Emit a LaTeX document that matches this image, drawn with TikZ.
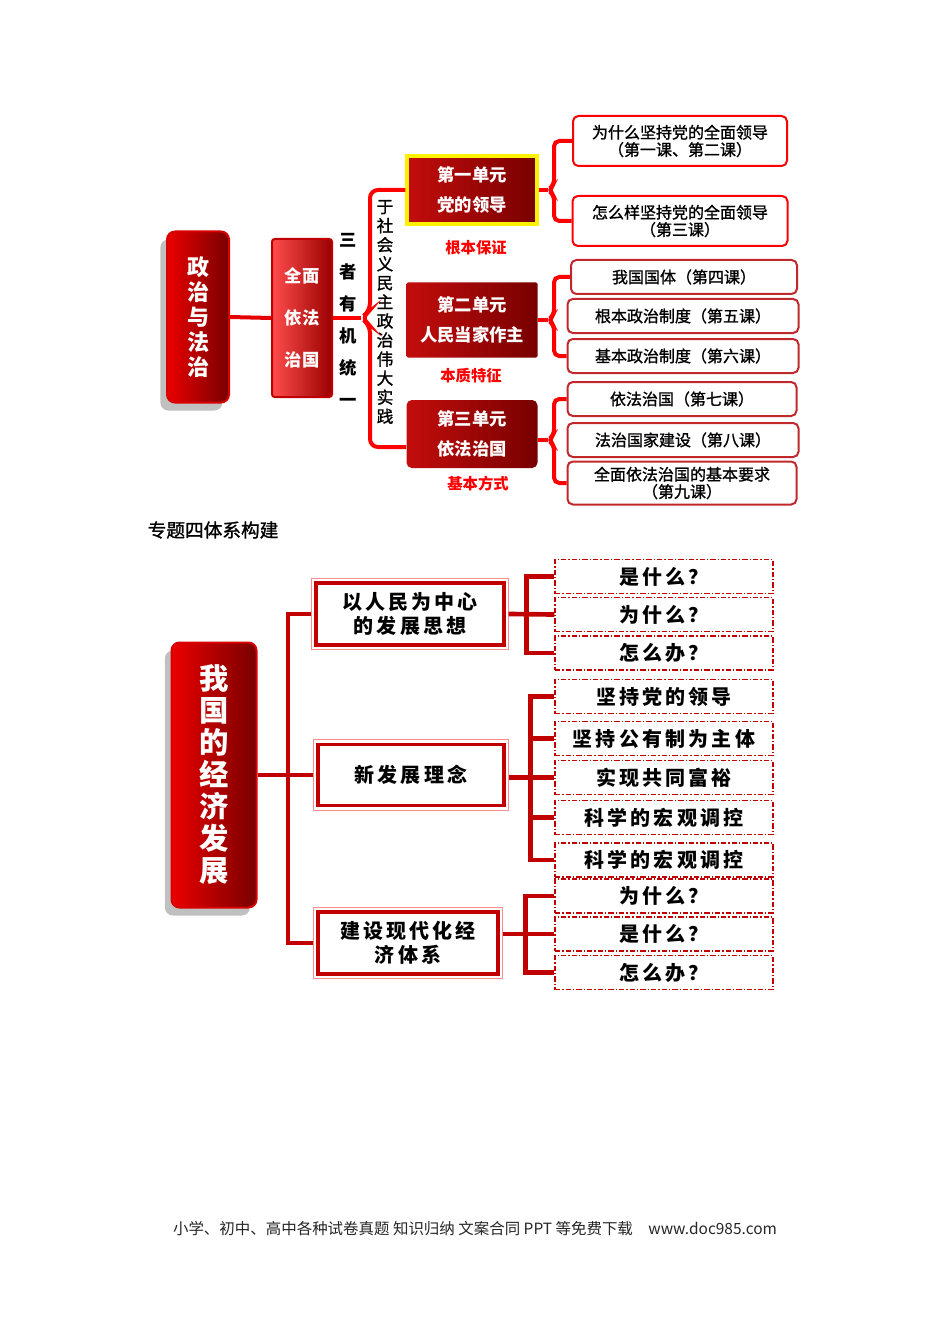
\documentclass[tikz,border=0pt]{standalone}
\usepackage{fontspec}
\setmainfont{Noto Sans CJK SC}
\newfontfamily\kuanti[LetterSpace=16]{Noto Sans CJK SC}
\newfontfamily\zhongti[FakeBold=1.2]{Noto Sans CJK SC}
\usetikzlibrary{calc,shadows,positioning}

\definecolor{hong}{HTML}{FF0000}
\definecolor{shenhong}{HTML}{C00000}
\definecolor{anhong}{HTML}{780000}
\definecolor{bianhong}{HTML}{C0282C}

\tikzset{
  hongxian/.style={draw=hong, line width=3pt},
  shenxian/.style={draw=shenhong, line width=3.5pt},
  zhuti/.style={draw=hong!85!black, line width=1.5pt, rounded corners=6pt,
    left color=hong!92!black, right color=anhong, text=white, align=center, inner sep=0pt,
    drop shadow={shadow xshift=-5pt, shadow yshift=-6pt, opacity=.35, fill=black!70}},
  danyuan/.style={left color=shenhong!95!white, right color=anhong, text=white, align=center,
    inner sep=0pt, font=\fontsize{13pt}{22.5pt}\selectfont\bfseries},
  kecheng/.style={draw=bianhong, line width=1.5pt, fill=white, rounded corners=4pt, align=center,
    inner sep=0pt, font=\zhongti\fontsize{12pt}{13pt}\selectfont},
  biaoqian/.style={text=hong, font=\fontsize{11.5pt}{12pt}\selectfont\bfseries},
  kuang/.style={draw=shenhong, line width=2.5pt, fill=white, align=center, inner sep=0pt,
    font=\kuanti\fontsize{15pt}{18pt}\selectfont\bfseries},
  waikuang/.style={draw=hong!45, line width=.8pt},
  xuxian/.style={draw=shenhong, dash pattern=on 4pt off 1.5pt on 1pt off 1.5pt, line width=.9pt,
    minimum width=163.5pt, minimum height=25.5pt, inner sep=0pt,
    font=\kuanti\fontsize{15pt}{16pt}\selectfont\bfseries}
}

\begin{document}
\begin{tikzpicture}[x=0.75pt, y=-0.75pt]
\useasboundingbox[fill=white] (0,0) rectangle (950,1344);

% 政治与法治
\node[zhuti, minimum width=46.5pt, minimum height=128.25pt,
  font=\fontsize{16.5pt}{18.75pt}\selectfont\bfseries] (zz) at (198,317) {政\\治\\与\\法\\治};
\node[draw=shenhong, line width=1.5pt, rounded corners=2pt, left color=red!70!white,
  right color=shenhong!80!black, text=white, align=center, inner sep=0pt,
  minimum width=45pt, minimum height=118.5pt,
  font=\fontsize{13pt}{31.5pt}\selectfont\bfseries] (qm) at (302,318) {全面\\依法\\治国};
\node[align=center, font=\fontsize{13pt}{24pt}\selectfont\bfseries] (sz) at (348,320)
  {三\\者\\有\\机\\统\\一};
\node[align=center, font=\zhongti\fontsize{12.5pt}{14.3pt}\selectfont] (ys) at (385,312)
  {于\\社\\会\\义\\民\\主\\政\\治\\伟\\大\\实\\践};

\node[danyuan, draw=yellow, line width=2.5pt, minimum width=97.5pt, minimum height=51pt]
  (u1) at (472,190) {第一单元\\党的领导};
\node[danyuan, rounded corners=1pt, minimum width=98.25pt, minimum height=56.25pt]
  (u2) at (472,320) {第二单元\\人民当家作主};
\node[danyuan, rounded corners=4pt, minimum width=98.25pt, minimum height=51pt]
  (u3) at (472,434) {第三单元\\依法治国};
\node[biaoqian] (gb) at (476,248) {根本保证};
\node[biaoqian] (bz) at (471,376) {本质特征};
\node[biaoqian] (jb) at (478,484) {基本方式};

\node[kecheng, draw=hong, minimum width=160.5pt, minimum height=37.5pt] (ka) at (680,141)
  {为什么坚持党的全面领导\\（第一课、第二课）};
\node[kecheng, draw=hong, minimum width=161.25pt, minimum height=37.5pt] (kb) at (680,221)
  {怎么样坚持党的全面领导\\（第三课）};
\node[kecheng, minimum width=169.5pt, minimum height=25.5pt] (kc) at (684,277) {我国国体（第四课）};
\node[kecheng, minimum width=173.25pt, minimum height=25.5pt] (kd) at (683,316) {根本政治制度（第五课）};
\node[kecheng, minimum width=173.25pt, minimum height=25.5pt] (ke) at (683,356) {基本政治制度（第六课）};
\node[kecheng, minimum width=171.75pt, minimum height=25.5pt] (kf) at (682,399) {依法治国（第七课）};
\node[kecheng, minimum width=173.25pt, minimum height=25.5pt] (kg) at (683,440) {法治国家建设（第八课）};
\node[kecheng, minimum width=171.75pt, minimum height=32.25pt] (kh) at (682,483)
  {全面依法治国的基本要求\\（第九课）};

% 括号
\coordinate (t0) at (361,318);
\coordinate (p1) at (548,190);
\coordinate (p2) at (548,320);
\coordinate (p3) at (548,440);
\draw[hongxian, draw=hong!90!black] (zz.east) -- (qm.west);
\draw[hongxian] (qm.east) -- (t0);
\draw[hongxian, rounded corners=6pt] (u1.west) -| (370,311) -- (t0) -- (370,325)
  |- ($(u3.west)+(0,13)$);
\draw[hongxian] (u1.east) -- (p1);
\draw[hongxian, rounded corners=4pt] (ka.west) -| (554,185) -- (p1) -- (554,195) |- (kb.west);
\draw[hongxian] (u2.east) -- (p2);
\draw[hongxian, rounded corners=4pt] (kc.west) -| (554,315) -- (p2) -- (554,325) |- (ke.west);
\draw[hongxian] (u3.east |- p3) -- (p3);
\draw[hongxian, rounded corners=4pt] (kf.west) -| (554,435) -- (p3) -- (554,445) |- (kh.west);

\node[anchor=west, font=\zhongti\fontsize{14pt}{16pt}\selectfont] (bt) at (143,530) {专题四体系构建};

% 我国的经济发展
\node[zhuti, minimum width=63.75pt, minimum height=198.75pt,
  font=\fontsize{22pt}{24pt}\selectfont\bfseries] (jj) at (214,775) {我\\国\\的\\经\\济\\发\\展};
\node[kuang, minimum width=141pt, minimum height=46.5pt] (b1) at (410,614) {以人民为中心\\的发展思想};
\node[kuang, minimum width=139.5pt, minimum height=45.75pt] (b2) at (411,775) {新发展理念};
\node[kuang, minimum width=135pt, minimum height=46.5pt] (b3) at (408,943) {建设现代化经\\济体系};
\draw[waikuang] ([shift={(-2.25pt,2.25pt)}]b1.north west) rectangle ([shift={(2.25pt,-2.25pt)}]b1.south east);
\draw[waikuang] ([shift={(-2.25pt,2.25pt)}]b2.north west) rectangle ([shift={(2.25pt,-2.25pt)}]b2.south east);
\draw[waikuang] ([shift={(-2.25pt,2.25pt)}]b3.north west) rectangle ([shift={(2.25pt,-2.25pt)}]b3.south east);

\node[xuxian] (q1) at (664,576.5) {是什么？};
\node[xuxian] (q2) at (664,614.5) {为什么？};
\node[xuxian] (q3) at (664,653) {怎么办？};
\node[xuxian] (q4) at (664,696.5) {坚持党的领导};
\node[xuxian] (q5) at (664,738.5) {坚持公有制为主体};
\node[xuxian] (q6) at (664,777.5) {实现共同富裕};
\node[xuxian] (q7) at (664,817.5) {科学的宏观调控};
\node[xuxian] (q8) at (664,860) {科学的宏观调控};
\node[xuxian] (q9) at (664,896) {为什么？};
\node[xuxian] (q10) at (664,934) {是什么？};
\node[xuxian] (q11) at (664,972.5) {怎么办？};

\coordinate (m0) at (288,775);
\draw[shenxian] (jj.east) -- (m0);
\draw[shenxian] ([xshift=-2.25pt]b1.west) -| (m0) |- ([xshift=-2.25pt]b3.west);
\draw[shenxian] (m0) -- ([xshift=-2.25pt]b2.west);

\draw[shenxian] ([xshift=2.25pt]b1.east) -- (q2.west);
\draw[shenxian] (q1.west) -- ++(-28,0) |- (q3.west);
\draw[shenxian] (q4.west) -- ++(-24,0) |- (q8.west);
\draw[shenxian] (q5.west) -- ++(-24,0);
\draw[shenxian] (q7.west) -- ++(-24,0);
\draw[shenxian] ([xshift=2.25pt]b2.east |- q6.west) -- (q6.west);
\draw[shenxian] (q9.west) -- ++(-29,0) |- (q11.west);
\draw[shenxian] ([xshift=2.25pt]b3.east |- q10.west) -- (q10.west);

\node[font=\fontsize{11.6pt}{13pt}\selectfont, text=black!85] (jz) at (475,1229)
  {小学、初中、高中各种试卷真题 知识归纳 文案合同 PPT 等免费下载\quad www.doc985.com};
\end{tikzpicture}
\end{document}
